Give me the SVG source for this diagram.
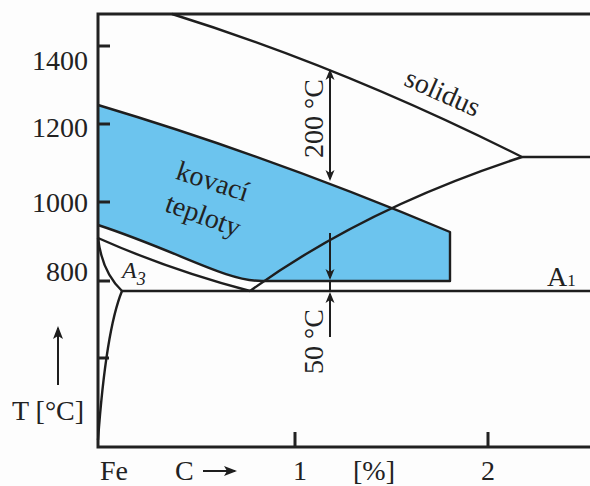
<svg xmlns="http://www.w3.org/2000/svg" width="590" height="486" viewBox="0 0 590 486">
  <style>
    .ax { fill: none; stroke: #222; stroke-width: 3; }
    .ln { fill: none; stroke: #1e1e1e; stroke-width: 2.4; stroke-linejoin: round; }
    .dim { fill: none; stroke: #1e1e1e; stroke-width: 2; }
    .t { font-family: "Liberation Serif", "Times New Roman", serif; font-size: 28px; fill: #222; }
    .ti { font-family: "Liberation Serif", "Times New Roman", serif; font-style: italic; fill: #222; }
  </style>
  <defs>
    <marker id="arr" viewBox="-12 -6 16 12" refX="0" refY="0" markerWidth="16" markerHeight="12" markerUnits="userSpaceOnUse" orient="auto-start-reverse">
      <path d="M2,0 L-9,-4.5 L-6,0 L-9,4.5 Z" fill="#1e1e1e"/>
    </marker>
    <marker id="arr2" viewBox="-14 -7 18 14" refX="0" refY="0" markerWidth="18" markerHeight="14" markerUnits="userSpaceOnUse" orient="auto">
      <path d="M2,0 L-11,-5 L-8,0 L-11,5 Z" fill="#1e1e1e"/>
    </marker>
  </defs>
  <rect width="590" height="486" fill="#fdfdfd"/>

  <g id="forging-range">
    <path d="M98,105 Q272,157 450,232 L450,281 L262,281 C225,281 180,252 98,225 Z" fill="#6cc4ee"/>
    <path class="ln" d="M98,105 Q272,157 450,232 L450,281 L262,281 C225,281 180,252 98,225"/>
  </g>

  <g id="axes">
    <path class="ax" d="M590,14 L98,14 L98,447 L590,447"/>
    <path class="ax" d="M98,46 H110 M98,124 H110 M98,202 H110 M98,281 H110 M98,358 H109"/>
    <path class="ax" d="M295,447 V432 M488,447 V432"/>
  </g>

  <g id="connectors">
    <path id="solidus-line" class="ln" d="M172,14 Q345,68 522,157 L590,157"/>
    <path id="acm-line" class="ln" d="M250,291 Q365,208 522,157"/>
    <path id="a1-line" class="ln" d="M122,291 L590,291"/>
    <path id="lower-band" class="ln" d="M98,238 Q170,270 250,291"/>
    <path id="a3-line" class="ln" d="M98,238 Q102,272 122,291"/>
    <path id="ferrite-line" class="ln" d="M122,291 Q106,330 98,440"/>
    <path class="dim" d="M330,71 L330,179" marker-start="url(#arr)" marker-end="url(#arr)"/>
    <path class="dim" d="M330,233 L330,278" marker-end="url(#arr)"/>
    <path class="dim" d="M330,281 L330,291"/>
    <path class="dim" d="M330,337 L330,294" marker-end="url(#arr)"/>
    <path class="dim" d="M58,385 L58,328" marker-end="url(#arr2)"/>
    <path class="dim" d="M203,471 L235,471" marker-end="url(#arr2)"/>
  </g>

  <g id="labels">
    <text class="t" x="88" y="69.5" text-anchor="end">1400</text>
    <text class="t" x="88" y="136.5" text-anchor="end">1200</text>
    <text class="t" x="88" y="211.5" text-anchor="end">1000</text>
    <text class="t" x="88" y="280.5" text-anchor="end">800</text>
    <text class="t" x="12" y="420">T [°C]</text>
    <text class="t" x="100" y="480">Fe</text>
    <text class="t" x="175" y="480">C</text>
    <text class="t" x="300" y="480" text-anchor="middle">1</text>
    <text class="t" x="353" y="480">[%]</text>
    <text class="t" x="488" y="480" text-anchor="middle">2</text>
    <text class="t" transform="translate(439,101) rotate(24)" text-anchor="middle">solidus</text>
    <text class="t" transform="translate(210,190) rotate(18)" text-anchor="middle">kovací</text>
    <text class="t" transform="translate(200,224) rotate(20)" text-anchor="middle">teploty</text>
    <text class="t" transform="translate(323,118.5) rotate(-90)" text-anchor="middle">200 °C</text>
    <text class="t" transform="translate(323,341.5) rotate(-90)" text-anchor="middle">50 °C</text>
    <text class="ti" x="122" y="278" font-size="24">A<tspan font-size="18" dy="7">3</tspan></text>
    <text class="t" x="547" y="286">A<tspan font-size="17">1</tspan></text>
  </g>
</svg>
